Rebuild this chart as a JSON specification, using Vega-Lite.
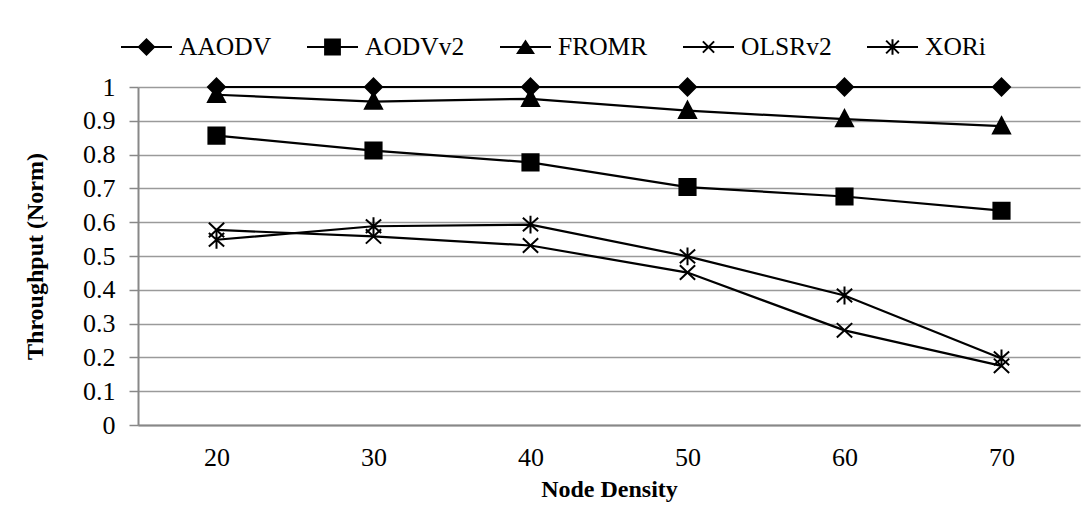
{
  "$schema": "https://vega.github.io/schema/vega-lite/v6.json",
  "width": 942,
  "height": 338,
  "autosize": {"type": "none"},
  "padding": {"left": 138, "top": 87, "right": 11, "bottom": 84},
  "background": "white",
  "config": {"font": "Liberation Serif", "view": {"stroke": null}},
  "data": {
    "values": [
      {"density": 20, "protocol": "AAODV", "throughput": 1.0},
      {"density": 30, "protocol": "AAODV", "throughput": 1.0},
      {"density": 40, "protocol": "AAODV", "throughput": 1.0},
      {"density": 50, "protocol": "AAODV", "throughput": 1.0},
      {"density": 60, "protocol": "AAODV", "throughput": 1.0},
      {"density": 70, "protocol": "AAODV", "throughput": 1.0},
      {"density": 20, "protocol": "AODVv2", "throughput": 0.856},
      {"density": 30, "protocol": "AODVv2", "throughput": 0.812},
      {"density": 40, "protocol": "AODVv2", "throughput": 0.777},
      {"density": 50, "protocol": "AODVv2", "throughput": 0.704},
      {"density": 60, "protocol": "AODVv2", "throughput": 0.676},
      {"density": 70, "protocol": "AODVv2", "throughput": 0.634},
      {"density": 20, "protocol": "FROMR", "throughput": 0.977},
      {"density": 30, "protocol": "FROMR", "throughput": 0.957},
      {"density": 40, "protocol": "FROMR", "throughput": 0.965},
      {"density": 50, "protocol": "FROMR", "throughput": 0.930},
      {"density": 60, "protocol": "FROMR", "throughput": 0.905},
      {"density": 70, "protocol": "FROMR", "throughput": 0.884},
      {"density": 20, "protocol": "OLSRv2", "throughput": 0.577},
      {"density": 30, "protocol": "OLSRv2", "throughput": 0.558},
      {"density": 40, "protocol": "OLSRv2", "throughput": 0.531},
      {"density": 50, "protocol": "OLSRv2", "throughput": 0.451},
      {"density": 60, "protocol": "OLSRv2", "throughput": 0.280},
      {"density": 70, "protocol": "OLSRv2", "throughput": 0.175},
      {"density": 20, "protocol": "XORi", "throughput": 0.548},
      {"density": 30, "protocol": "XORi", "throughput": 0.588},
      {"density": 40, "protocol": "XORi", "throughput": 0.593},
      {"density": 50, "protocol": "XORi", "throughput": 0.499},
      {"density": 60, "protocol": "XORi", "throughput": 0.383},
      {"density": 70, "protocol": "XORi", "throughput": 0.197}
    ]
  },
  "encoding": {
    "x": {
      "field": "density",
      "type": "ordinal",
      "scale": {"type": "point", "padding": 0.5},
      "axis": {
        "title": "Node Density",
        "labelAngle": 0,
        "ticks": false,
        "grid": false,
        "domainColor": "#888888",
        "domainWidth": 2,
        "labelFontSize": 26,
        "labelColor": "black",
        "labelPadding": 19,
        "titleFontSize": 24,
        "titleFontWeight": "bold",
        "titleColor": "black",
        "titleY": 64.7,
        "titleBaseline": "middle"
      }
    },
    "y": {
      "field": "throughput",
      "type": "quantitative",
      "scale": {"domain": [0, 1], "nice": false},
      "axis": {
        "title": "Throughput (Norm)",
        "values": [0, 0.1, 0.2, 0.3, 0.4, 0.5, 0.6, 0.7, 0.8, 0.9, 1],
        "format": ".1~f",
        "labelFontSize": 26,
        "labelColor": "black",
        "labelPadding": 14,
        "tickSize": 9,
        "tickColor": "#888888",
        "tickWidth": 1.5,
        "domainColor": "#888888",
        "domainWidth": 2,
        "gridColor": "#9a9a9a",
        "gridWidth": 1.5,
        "titleFontSize": 24,
        "titleFontWeight": "bold",
        "titleColor": "black",
        "titleX": -103,
        "titleY": 169,
        "titleAngle": -90,
        "titleAlign": "center",
        "titleBaseline": "middle"
      }
    }
  },
  "layer": [
    {
      "mark": {"type": "line", "color": "black", "strokeWidth": 2.2},
      "encoding": {"detail": {"field": "protocol", "type": "nominal"}}
    },
    {
      "mark": {
        "type": "point",
        "filled": true,
        "color": "black",
        "stroke": "black",
        "strokeWidth": 2,
        "size": 289,
        "opacity": 1
      },
      "encoding": {
        "shape": {
          "field": "protocol",
          "type": "nominal",
          "scale": {
            "domain": ["AAODV", "AODVv2", "FROMR", "OLSRv2", "XORi"],
            "range": [
              "M0,-1L1,0L0,1L-1,0Z",
              "M-0.95,-0.95H0.95V0.95H-0.95Z",
              "M0,-1.05L1,0.85L-1,0.85Z",
              "M-0.9,-0.85L0.9,0.85M-0.9,0.85L0.9,-0.85",
              "M-0.9,-0.8L0.9,0.8M-0.9,0.8L0.9,-0.8M0,-1.05V1.05"
            ]
          },
          "legend": null
        }
      }
    },
    {
      "mark": {
        "type": "point",
        "filled": false,
        "fill": "black",
        "stroke": "black",
        "strokeWidth": 2,
        "opacity": 0
      },
      "encoding": {
        "shape": {
          "field": "protocol",
          "type": "nominal",
          "scale": {
            "domain": ["AAODV", "AODVv2", "FROMR", "OLSRv2", "XORi"],
            "range": [
              "M-1,0H1M0,-0.3L0.3,0L0,0.3L-0.3,0Z",
              "M-1,0H1M-0.29,-0.29H0.29V0.29H-0.29Z",
              "M-1,0H1M0,-0.22L0.3,0.24L-0.3,0.24Z",
              "M-1,0H1M-0.22,-0.22L0.22,0.22M-0.22,0.22L0.22,-0.22",
              "M-1,0H1M-0.25,-0.25L0.25,0.25M-0.25,0.25L0.25,-0.25M0,-0.3V0.3"
            ]
          },
          "legend": {
            "title": null,
            "orient": "none",
            "legendX": -18,
            "legendY": -66.5,
            "direction": "horizontal",
            "padding": 0,
            "symbolSize": 2601,
            "symbolOpacity": 1,
            "symbolStrokeWidth": 2,
            "labelFont": "Liberation Serif",
            "labelFontSize": 25.5,
            "labelColor": "black",
            "labelOffset": 6,
            "columnPadding": 31
          }
        }
      }
    }
  ],
  "resolve": {"scale": {"shape": "independent"}, "legend": {"shape": "independent"}}
}
